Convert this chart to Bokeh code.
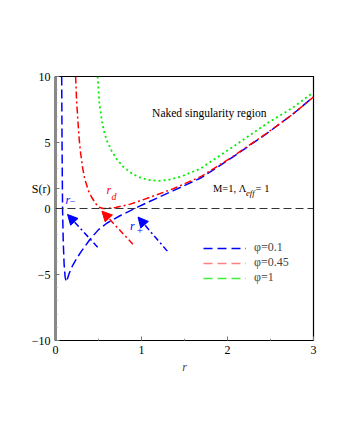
from bokeh.plotting import figure
from bokeh.embed import file_html
from bokeh.resources import INLINE
from bokeh.models import Range1d, Span, Label, Arrow, NormalHead, Legend, LegendItem, FixedTicker

# ---- data ----
r_blue = [0.072, 0.076, 0.082, 0.09, 0.10, 0.112, 0.125, 0.14, 0.16, 0.20, 0.25, 0.30, 0.40, 0.50, 0.60, 0.75, 0.92, 1.10, 1.37, 1.70, 2.07, 2.46, 2.75, 3.00]
s_blue = [10.0, 5.0, 0.0, -2.5, -4.2, -5.2, -5.55, -5.3, -4.9, -4.3, -3.75, -3.25, -2.35, -1.6, -1.1, -0.55, 0.0, 0.55, 1.35, 2.35, 3.93, 5.7, 7.1, 8.45]

r_red = [0.234, 0.245, 0.26, 0.275, 0.29, 0.315, 0.34, 0.38, 0.42, 0.47, 0.51, 0.55, 0.60, 0.70, 0.87, 1.10, 1.37, 1.70, 2.07, 2.46, 2.75, 3.00]
s_red = [10.0, 8.2, 6.7, 5.3, 4.3, 3.1, 2.25, 1.4, 0.85, 0.35, 0.1, 0.0, 0.0, 0.08, 0.33, 0.85, 1.5, 2.45, 3.97, 5.72, 7.1, 8.45]

r_green = [0.49, 0.51, 0.54, 0.57, 0.60, 0.65, 0.70, 0.78, 0.90, 1.00, 1.10, 1.20, 1.30, 1.45, 1.68, 2.07, 2.46, 2.75, 3.00]
s_green = [10.0, 8.0, 6.6, 5.7, 5.1, 4.4, 3.85, 3.2, 2.6, 2.3, 2.15, 2.1, 2.15, 2.4, 3.0, 4.7, 6.45, 7.6, 8.8]

legend_labels = ["φ=0.1", "φ=0.45", "φ=1"]
x_ticks = [0, 1, 2, 3]
y_ticks = [-10, -5, 0, 5, 10]
y_title = "S(r)"
y_title_at = 1.5

# arrows: (x_start, y_start, x_end, y_end)
arrow_rminus = (0.49, -2.93, 0.14, -0.45)
arrow_rd = (0.90, -2.70, 0.54, -0.20)
arrow_rplus = (1.30, -3.23, 0.96, -0.65)

SERIF = "Liberation Serif"
NAN = float("nan")

p = figure(width=324, height=400, output_backend="svg", toolbar_location=None,
           x_range=Range1d(0, 3), y_range=Range1d(-10, 10),
           min_border_left=55, min_border_right=11, min_border_top=76, min_border_bottom=60)
p.background_fill_color = "white"
p.border_fill_color = "white"
p.outline_line_color = "black"
p.outline_line_width = 1.2
p.grid.visible = False

p.xaxis.ticker = FixedTicker(ticks=x_ticks, minor_ticks=[0.5, 1.5, 2.5])
p.yaxis.ticker = FixedTicker(ticks=y_ticks + [y_title_at],
                             minor_ticks=[v for v in range(-10, 11) if v % 5 != 0])
for ax in (p.xaxis[0], p.yaxis[0]):
    ax.major_tick_in = 4
    ax.major_tick_out = 0
    ax.minor_tick_in = 2
    ax.minor_tick_out = 0
    ax.major_label_text_font = SERIF
    ax.major_label_text_font_size = "12px"
    ax.major_label_text_color = "black"
    ax.major_tick_line_color = "#777"
    ax.minor_tick_line_color = "#999"
    ax.major_label_standoff = 5
p.xaxis.axis_line_color = "black"
p.xaxis.axis_line_width = 1.2
p.yaxis.axis_line_color = "#888888"
p.yaxis.axis_line_width = 3
p.yaxis.major_label_overrides = {-10: "−10", -5: "−5", y_title_at: y_title}
p.xaxis.axis_label = "r"
p.xaxis.axis_label_text_font = SERIF
p.xaxis.axis_label_text_font_style = "italic"
p.xaxis.axis_label_text_font_size = "12px"
p.xaxis.axis_label_standoff = 3

# zero line
p.add_layout(Span(location=0, dimension="width", line_color="#333333", line_width=1.2, line_dash="8 4"))

# curves
p.line(r_blue, s_blue, line_color="#0000ff", line_width=1.5, line_dash="9 4")
p.line(r_red, s_red, line_color="#ff0000", line_width=1.5, line_dash="7 3 2 3")
p.line(r_green, s_green, line_color="#00ee00", line_width=1.8, line_dash="2 3")

# legend (all dashed in the reference)
lb = p.line([NAN], [NAN], line_color="#0000ff", line_width=1.3, line_dash="9 5")
lr = p.line([NAN], [NAN], line_color="#ff8080", line_width=1.3, line_dash="9 5")
lg = p.line([NAN], [NAN], line_color="#40ee40", line_width=1.3, line_dash="9 5")
legend = Legend(items=[LegendItem(label=legend_labels[0], renderers=[lb]),
                       LegendItem(label=legend_labels[1], renderers=[lr]),
                       LegendItem(label=legend_labels[2], renderers=[lg])],
                location=(148, 55), border_line_color=None, background_fill_alpha=0,
                padding=0, margin=0, spacing=-3, glyph_width=43, glyph_height=12,
                label_height=12, label_standoff=8, label_text_font=SERIF,
                label_text_font_size="12px", label_text_line_height=1.0)
p.add_layout(legend)

# arrows
for (xs, ys, xe, ye), col in [(arrow_rminus, "#0000ff"), (arrow_rd, "#ff0000"), (arrow_rplus, "#0000ff")]:
    p.add_layout(Arrow(end=NormalHead(size=10, fill_color=col, line_color=col),
                       x_start=xs, y_start=ys, x_end=xe, y_end=ye,
                       line_color=col, line_width=1.5, line_dash="6 3 2 3"))

def lab(x, y, t, size="12px", style="normal", color="black"):
    p.add_layout(Label(x=x, y=y, text=t, text_font=SERIF, text_font_size=size,
                       text_font_style=style, text_color=color,
                       text_baseline="middle", text_align="left"))

lab(1.123, 7.22, "Naked singularity region", "11.5px")
lab(1.83, 1.5, "M=1, Λ", "10.5px")
lab(2.216, 1.2, "eff", "8.5px", "italic")
lab(2.327, 1.5, "= 1", "10.5px")
lab(0.117, 0.68, "r", "12px", "italic", "#0000ff")
lab(0.165, 0.55, "−", "10px", "normal", "#0000ff")
lab(0.593, 1.43, "r", "12px", "italic", "#ff0000")
lab(0.65, 0.92, "d", "10px", "italic", "#ff0000")
lab(0.865, -1.33, "r", "12px", "italic", "#0000ff")
lab(0.945, -1.7, "+", "11px", "normal", "#0000ff")

open("out.html", "w").write(file_html(p, INLINE))
